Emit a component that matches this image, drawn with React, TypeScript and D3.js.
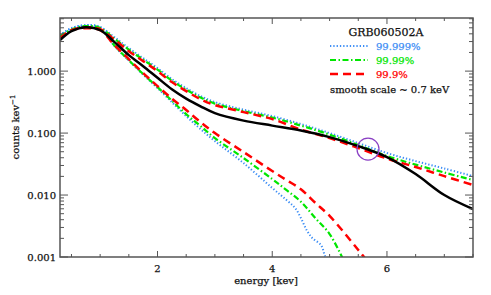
import React from "react";
import * as d3 from "d3";

const energyMain = [0.3, 0.5, 0.75, 1, 1.25, 1.5, 1.75, 2, 2.25, 2.5, 2.75, 3, 3.5, 4, 4.5, 5, 5.5, 6, 6.5, 7, 7.5];
const smoothBlack = [3.16, 4.42, 5.12, 4.58, 2.94, 1.81, 1.2, 0.78, 0.51, 0.36, 0.27, 0.21, 0.159, 0.132, 0.11, 0.0861, 0.0617, 0.041, 0.0218, 0.01, 0.00594];
const upperBlue = [3.81, 4.94, 5.52, 5.12, 3.53, 2.35, 1.62, 1.12, 0.743, 0.532, 0.395, 0.316, 0.239, 0.188, 0.14, 0.1, 0.069, 0.0476, 0.0353, 0.0268, 0.0202];
const upperGreen = [3.6, 4.67, 5.32, 4.94, 3.34, 2.22, 1.53, 1.06, 0.703, 0.503, 0.374, 0.299, 0.226, 0.178, 0.132, 0.0946, 0.064, 0.0426, 0.031, 0.0231, 0.0175];
const upperRed = [3.41, 4.58, 5.12, 4.76, 3.22, 2.1, 1.45, 1.0, 0.665, 0.476, 0.353, 0.283, 0.218, 0.168, 0.114, 0.083, 0.0573, 0.0388, 0.0283, 0.0202, 0.0145];

const energyLowRed = [0.3, 0.5, 0.75, 1, 1.25, 1.5, 1.75, 2, 2.25, 2.5, 2.75, 3, 3.5, 4, 4.25, 4.5, 4.75, 5, 5.5, 5.75];
const lowerRed = [3.41, 4.58, 4.94, 4.58, 2.63, 1.56, 0.929, 0.573, 0.36, 0.235, 0.15, 0.1, 0.0494, 0.0244, 0.0174, 0.0124, 0.0075, 0.0046, 0.0013, 0.000665];

const energyLowGreen = [0.3, 0.5, 0.75, 1, 1.25, 1.5, 1.75, 2, 2.25, 2.5, 2.75, 3, 3.5, 4, 4.25, 4.5, 4.75, 5, 5.25];
const lowerGreen = [3.6, 4.67, 5.32, 4.94, 2.58, 1.5, 0.895, 0.552, 0.334, 0.202, 0.13, 0.083, 0.0395, 0.0181, 0.012, 0.0078, 0.00426, 0.00235, 0.00086];

const energyLowBlue = [0.3, 0.5, 0.75, 1, 1.25, 1.5, 1.75, 2, 2.25, 2.5, 2.75, 3, 3.5, 4, 4.25, 4.4, 4.5, 4.6, 4.7, 4.85, 4.92, 5.0];
const lowerBlue = [3.81, 4.94, 5.52, 5.12, 2.53, 1.48, 0.878, 0.532, 0.316, 0.188, 0.116, 0.0743, 0.0328, 0.013, 0.0083, 0.00617, 0.00426, 0.00272, 0.00202, 0.00156, 0.00104, 0.00074];

const yTickValues = [0.001, 0.01, 0.1, 1];
const yTickLabels = ["0.001", "0.010", "0.100", "1.000"];
const xLabelTicks = [2, 4, 6];
const legendLabels = ["99.999%", "99.99%", "99.9%"];
const circleMark = { energy: 5.67, counts: 0.055 };

const W = 491, H = 295;
const L = 60, R = 473, T = 18, B = 257;
const BLUE = "#3d8ef5", GREEN = "#00e600", RED = "#ff0000";
const AX = "#555";
const FONT = "DejaVu Serif";
const TXT = { fontFamily: FONT, fontSize: 10, fill: "#111", stroke: "#111", strokeWidth: 0.25 } as const;

export default function App() {
  const x = d3.scaleLinear().domain([0.3, 7.5]).range([L, R]);
  const y = d3.scaleLog().domain([0.001, 7.2]).range([B, T]);
  const line = (xs: number[], ys: number[]) =>
    d3.line<number>().x((_, i) => x(xs[i])).y((v) => y(v)).curve(d3.curveCatmullRom.alpha(0.5))(ys) || "";

  const minorY: number[] = [];
  for (let p = -3; p <= 0; p++) for (let m = 2; m <= 9; m++) {
    const v = m * Math.pow(10, p);
    if (v <= 7.2) minorY.push(v);
  }
  const xTicks = d3.range(0.5, 7.51, 0.5);

  const series = [
    { xs: energyLowBlue, ys: lowerBlue, c: BLUE, w: 2, dash: "1.3 2" },
    { xs: energyLowGreen, ys: lowerGreen, c: GREEN, w: 2.2, dash: "6 2.5 1.5 2.5" },
    { xs: energyLowRed, ys: lowerRed, c: RED, w: 2.5, dash: "8 5" },
    { xs: energyMain, ys: upperBlue, c: BLUE, w: 2, dash: "1.3 2" },
    { xs: energyMain, ys: upperGreen, c: GREEN, w: 2.2, dash: "6 2.5 1.5 2.5" },
    { xs: energyMain, ys: upperRed, c: RED, w: 2.5, dash: "8 5" },
    { xs: energyMain, ys: smoothBlack, c: "#000", w: 2.5, dash: "" },
  ];

  const legend = [
    { c: BLUE, w: 2, dash: "1.3 2", label: legendLabels[0] },
    { c: GREEN, w: 2.2, dash: "6 2.5 1.5 2.5", label: legendLabels[1] },
    { c: RED, w: 2.5, dash: "8 5", label: legendLabels[2] },
  ];

  return (
    <svg width={W} height={H} style={{ position: "absolute", left: 0, top: 0, background: "#fff" }}>
      <defs>
        <clipPath id="plot">
          <rect x={L} y={T} width={R - L} height={B - T} />
        </clipPath>
      </defs>
      <g clipPath="url(#plot)">
        {series.map((s, i) => (
          <path key={i} d={line(s.xs, s.ys)} fill="none" stroke={s.c} strokeWidth={s.w}
            strokeDasharray={s.dash || undefined} />
        ))}
        <circle cx={x(circleMark.energy)} cy={y(circleMark.counts)} r={11} fill="none" stroke="#8a3fc4" strokeWidth={1.2} />
      </g>
      <rect x={L} y={T} width={R - L} height={B - T} fill="none" stroke={AX} strokeWidth={1.5} />
      {xTicks.map((t) => {
        const len = xLabelTicks.includes(t) ? 6 : 3;
        return (
          <g key={"xt" + t}>
            <line x1={x(t)} x2={x(t)} y1={B} y2={B - len} stroke={AX} strokeWidth={1} />
            <line x1={x(t)} x2={x(t)} y1={T} y2={T + len} stroke={AX} strokeWidth={1} />
          </g>
        );
      })}
      {xLabelTicks.map((t) => (
        <text key={"xl" + t} x={x(t)} y={272} textAnchor="middle" {...TXT}>{t}</text>
      ))}
      {yTickValues.map((v, i) => (
        <g key={"yt" + v}>
          <line x1={L} x2={L + 8} y1={y(v)} y2={y(v)} stroke={AX} strokeWidth={1} />
          <line x1={R} x2={R - 8} y1={y(v)} y2={y(v)} stroke={AX} strokeWidth={1} />
          <text x={56} y={y(v)} dy="0.35em" textAnchor="end" {...TXT}>{yTickLabels[i]}</text>
        </g>
      ))}
      {minorY.map((v) => (
        <g key={"ym" + v}>
          <line x1={L} x2={L + 4} y1={y(v)} y2={y(v)} stroke={AX} strokeWidth={1} />
          <line x1={R} x2={R - 4} y1={y(v)} y2={y(v)} stroke={AX} strokeWidth={1} />
        </g>
      ))}
      <text x={266} y={284} textAnchor="middle" {...TXT}>energy [kev]</text>
      <text transform={`translate(19,127) rotate(-90)`} textAnchor="middle" {...TXT}>
        counts kev<tspan dy="-4" fontSize={7}>−1</tspan>
      </text>
      <text x={386} y={36} textAnchor="middle" {...TXT} fontSize={11}>GRB060502A</text>
      {legend.map((l, i) => (
        <g key={"lg" + i}>
          <line x1={330} x2={368} y1={46 + i * 14} y2={46 + i * 14} stroke={l.c} strokeWidth={l.w} strokeDasharray={l.dash} />
          <text x={376} y={46 + i * 14} dy="0.35em" {...TXT} fill={l.c} stroke={l.c}>{l.label}</text>
        </g>
      ))}
      <text x={330} y={89} dy="0.35em" {...TXT}>smooth scale ~ 0.7 keV</text>
    </svg>
  );
}
